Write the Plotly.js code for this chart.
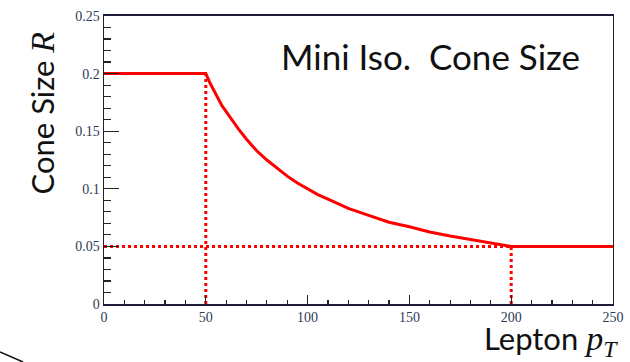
<!DOCTYPE html>
<html>
<head>
<meta charset="utf-8">
<script src="https://cdn.plot.ly/plotly-3.0.1.min.js"></script>
<style>html,body{margin:0;padding:0;background:#fff;}#chart{width:630px;height:362px;}</style>
</head>
<body>
<div id="chart"></div>
<script>
// Cone size curve
const ptValues = [0, 50, 52, 54, 56, 58, 60, 63, 66, 70, 75, 80, 85, 90, 95, 100, 105, 110, 115, 120, 130, 140, 150, 160, 170, 180, 190, 200, 250];
const coneR    = [0.2, 0.2, 0.192, 0.185, 0.179, 0.172, 0.167, 0.159, 0.152, 0.143, 0.133, 0.125, 0.118, 0.111, 0.105, 0.1, 0.095, 0.091, 0.087, 0.083, 0.077, 0.071, 0.067, 0.0625, 0.059, 0.056, 0.053, 0.05, 0.05];
// Dotted guide lines
const guideLowX  = [50, 50];
const guideLowY  = [0, 0.2];
const guideHorX  = [0, 200];
const guideHorY  = [0.05, 0.05];
const guideHighX = [200, 200];
const guideHighY = [0, 0.05];
// Axis ticks
const xTicks = [0, 50, 100, 150, 200, 250];
const yTicks = [0, 0.05, 0.1, 0.15, 0.2, 0.25];
const yTickText = ['0', '0.05', '0.1', '0.15', '0.2', '0.25'];

const red = '#ff0000';
const dotted = {color: red, width: 3, dash: '3px,3px'};
const traces = [
  {x: guideLowX, y: guideLowY, mode: 'lines', line: dotted, hoverinfo: 'skip'},
  {x: guideHorX, y: guideHorY, mode: 'lines', line: dotted, hoverinfo: 'skip'},
  {x: guideHighX, y: guideHighY, mode: 'lines', line: dotted, hoverinfo: 'skip'},
  {x: ptValues, y: coneR, mode: 'lines', line: {color: red, width: 3, shape: 'linear'}}
];
const tickFont = {family: 'Liberation Serif, serif', size: 14, color: '#2e3a58'};
const titleFont = {family: 'Lato, Open Sans, sans-serif', size: 31, color: '#111'};
const layout = {
  width: 630, height: 362,
  margin: {l: 104, r: 17, t: 16, b: 58},
  paper_bgcolor: '#fff', plot_bgcolor: '#fff',
  showlegend: false,
  xaxis: {
    range: [0, 250], tickvals: xTicks, ticktext: xTicks.map(String),
    ticks: 'inside', ticklen: 9, tickwidth: 1.2, tickcolor: '#222',
    minor: {dtick: 10, tick0: 0, ticks: 'inside', ticklen: 4, tickwidth: 1.2, tickcolor: '#222'},
    showline: true, linecolor: '#1e1e3c', linewidth: 1.6, mirror: true,
    showgrid: false, zeroline: false, tickfont: tickFont
  },
  yaxis: {
    range: [0, 0.25], tickvals: yTicks, ticktext: yTickText,
    ticks: 'inside', ticklen: 15, tickwidth: 1.2, tickcolor: '#222',
    minor: {dtick: 0.01, tick0: 0, ticks: 'inside', ticklen: 7, tickwidth: 1.2, tickcolor: '#222'},
    showline: true, linecolor: '#222', linewidth: 1.4, mirror: true,
    showgrid: false, zeroline: false, tickfont: tickFont
  },
  annotations: [
    {xref: 'paper', yref: 'paper', x: 0.641, y: 0.86, text: 'Mini Iso.&nbsp; Cone Size', showarrow: false,
     font: {family: 'Lato, Open Sans, sans-serif', size: 35, color: '#111'}, xanchor: 'center', yanchor: 'middle'},
    {xref: 'paper', yref: 'paper', x: -0.12, y: 0.665, textangle: -90, showarrow: false,
     text: 'Cone Size <span style="font-family:Liberation Serif;font-style:italic;font-size:34px">R</span>',
     font: titleFont, xanchor: 'center', yanchor: 'middle'},
    {xref: 'paper', yref: 'paper', x: 1.013, y: -0.128, showarrow: false, xanchor: 'right', yanchor: 'middle',
     text: 'Lepton <span style="font-family:Liberation Serif;font-style:italic;font-size:34px">p<sub>T</sub></span>',
     font: titleFont}
  ],
  shapes: [
    {type: 'line', xref: 'paper', yref: 'paper', x0: -104/509, y0: -48/288, x1: -81/509, y1: -58/288,
     line: {color: '#111', width: 1.5}}
  ]
};
Plotly.newPlot('chart', traces, layout, {displayModeBar: false, staticPlot: true});
</script>
</body>
</html>
